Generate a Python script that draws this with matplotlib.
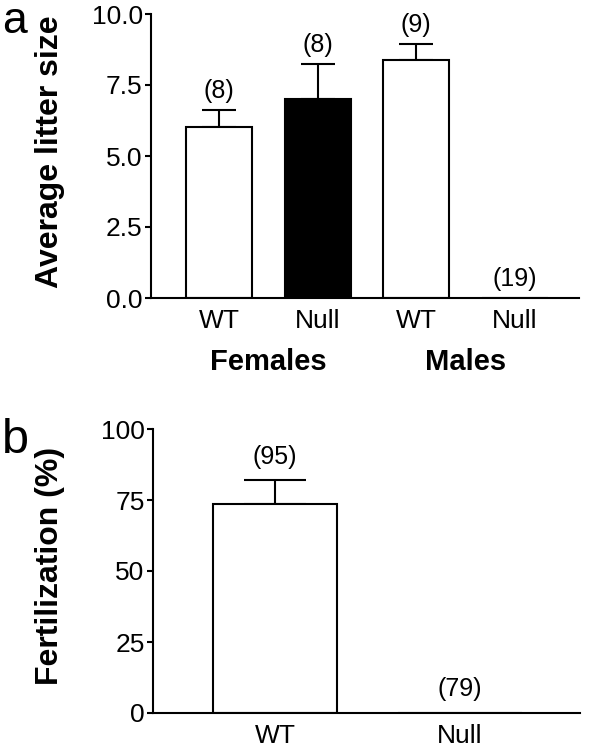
import matplotlib
matplotlib.use('Agg')
import matplotlib.pyplot as plt

plt.rcParams['font.family'] = ['Liberation Sans', 'DejaVu Sans']

# ---------------------------- data ----------------------------------------
litter_groups = ['WT', 'Null', 'WT', 'Null']
litter_mean = [6.02, 7.02, 8.38, 0.0]
litter_sem = [0.60, 1.22, 0.55, 0.0]
litter_n = ['(8)', '(8)', '(9)', '(19)']
litter_colors = ['white', 'black', 'white', 'white']
sex_labels = ['Females', 'Males']

fert_groups = ['WT', 'Null']
fert_mean = [73.6, 0.0]
fert_sem = [8.4, 0.0]
fert_n = ['(95)', '(79)']
# ---------------------------------------------------------------------------

W, H = 589, 753
fig = plt.figure(figsize=(W / 100, H / 100), dpi=100)

ax1 = fig.add_axes([151 / W, 1 - 298 / H, (579 - 151) / W, (298 - 14) / H])
ax2 = fig.add_axes([153 / W, 1 - 713 / H, (580 - 153) / W, (713 - 429) / H])

lw = 1.5


def style(ax):
    for s in ['top', 'right']:
        ax.spines[s].set_visible(False)
    for s in ['left', 'bottom']:
        ax.spines[s].set_linewidth(lw)
    ax.tick_params(axis='y', direction='out', length=4, width=lw, labelsize=19, pad=2)
    ax.tick_params(axis='x', length=0, labelsize=19, pad=8)


# panel a
x1 = list(range(len(litter_groups)))
ax1.bar(x1, litter_mean, width=0.67, color=litter_colors, edgecolor='black', linewidth=lw, zorder=2)
for xi, m, e, n in zip(x1, litter_mean, litter_sem, litter_n):
    if e > 0:
        ax1.errorbar(xi, m, yerr=[[0], [e]], fmt='none', ecolor='black', elinewidth=lw,
                     capsize=12, capthick=lw, zorder=1)
    ax1.annotate(n, (xi, m + e), xytext=(0, 14), textcoords='offset points',
                 ha='center', va='center', fontsize=18)
ax1.set_xlim(-0.69, 3.65)
ax1.set_ylim(0, 10)
ax1.set_yticks([0, 2.5, 5, 7.5, 10])
ax1.set_yticklabels(['0.0', '2.5', '5.0', '7.5', '10.0'])
ax1.set_xticks(x1)
ax1.set_xticklabels(litter_groups)
style(ax1)
for i, lab in enumerate(sex_labels):
    ax1.text(2 * i + 0.5, -0.225, lab, transform=ax1.get_xaxis_transform(),
             ha='center', va='center', fontsize=21, fontweight='bold')

# panel b
x2 = list(range(len(fert_groups)))
ax2.bar(x2, fert_mean, width=0.67, color='white', edgecolor='black', linewidth=lw, zorder=2)
for xi, m, e, n in zip(x2, fert_mean, fert_sem, fert_n):
    if e > 0:
        ax2.errorbar(xi, m, yerr=[[0], [e]], fmt='none', ecolor='black', elinewidth=lw,
                     capsize=22, capthick=lw, zorder=1)
    ax2.annotate(n, (xi, m + e), xytext=(0, 17), textcoords='offset points',
                 ha='center', va='center', fontsize=18)
ax2.set_xlim(-0.66, 1.65)
ax2.set_ylim(0, 100)
ax2.set_yticks([0, 25, 50, 75, 100])
ax2.set_xticks(x2)
ax2.set_xticklabels(fert_groups)
style(ax2)

# y labels and panel letters
fig.text(50 / W, 1 - 152 / H, 'Average litter size', rotation=90, ha='center', va='center',
         fontsize=23, fontweight='bold')
fig.text(50 / W, 1 - 566 / H, 'Fertilization (%)', rotation=90, ha='center', va='center',
         fontsize=23, fontweight='bold')
fig.text(2 / W, 1 - 33 / H, 'a', ha='left', va='baseline', fontsize=32)
fig.text(2 / W, 1 - 453 / H, 'b', ha='left', va='baseline', fontsize=35)

fig.savefig('out.png', dpi=100)
